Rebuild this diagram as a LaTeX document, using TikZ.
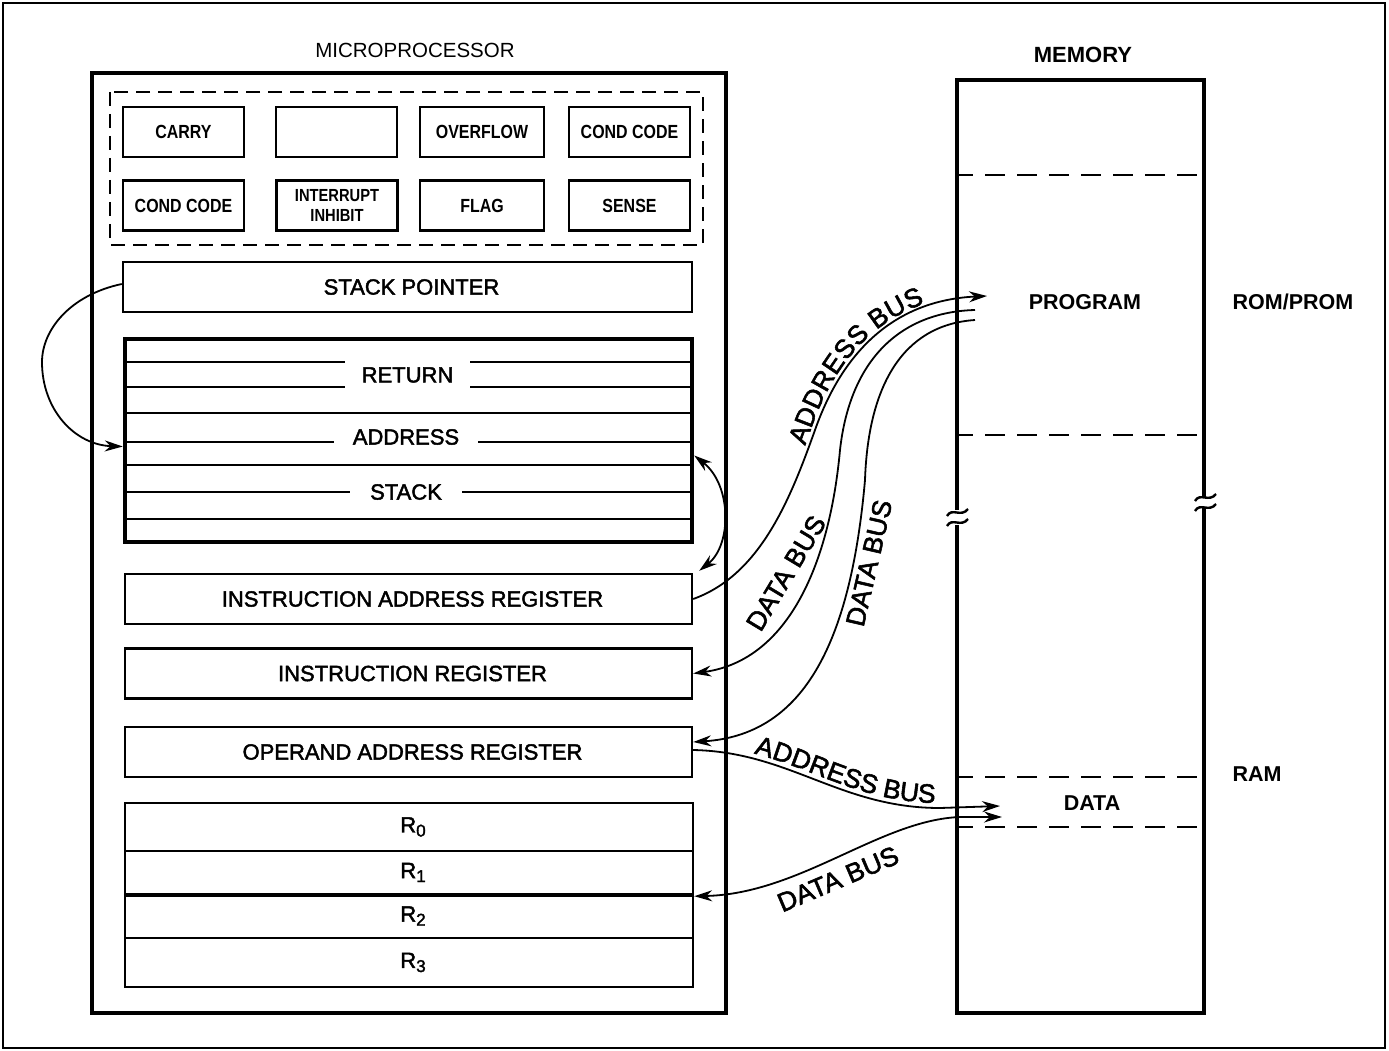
\documentclass[tikz,border=0pt]{standalone}
\usepackage{fontspec}
\setmainfont{Liberation Sans}
\newfontfamily\medfont[FakeBold=2]{Liberation Sans}
\newfontfamily\flagfont[FakeStretch=0.84]{Liberation Sans Bold}
\newcommand*\busfont{\medfont\fontsize{26.5}{28}\selectfont}
\usetikzlibrary{arrows.meta,decorations.text}

\begin{document}
\begin{tikzpicture}[x=1pt,y=-1pt,
  reg/.style={draw,line width=2.4pt,minimum width=567pt,minimum height=50pt,inner sep=0pt,
    font=\medfont\fontsize{22}{24}\selectfont,execute at begin node={\hspace*{8pt}}},
  regrow/.style={reg,minimum width=568pt},
  flagbox/.style={draw,line width=2.4pt,minimum width=121pt,minimum height=50pt,inner sep=0pt,
    align=center,font=\flagfont\fontsize{19}{20}\selectfont},
  lbl/.style={font=\medfont\fontsize{22}{24}\selectfont},
  memlbl/.style={font=\bfseries\fontsize{21.5}{24}\selectfont},
  buslbl/.style={font=\busfont,inner sep=0pt},
  bus/.style={line width=1.8pt},
  tip/.style={-{Stealth[length=18pt,width=11pt]}},
  tips/.style={{Stealth[length=18pt,width=11pt]}-{Stealth[length=18pt,width=11pt]}},
  memline/.style={line width=4.5pt},
  gap/.style={lbl,fill=white,inner xsep=17pt,inner ysep=3pt},
  brk/.style={line width=2.4pt}
]
\useasboundingbox (0,0) rectangle (1389,1051);
\draw[line width=1.4pt] (3,3) rectangle (1385,1048);

% ---------- microprocessor ----------
\node[font=\fontsize{20.5}{22}\selectfont] (mptitle) at (415,50) {MICROPROCESSOR};
\node[draw,line width=4.5pt,minimum width=634pt,minimum height=940pt,inner sep=0pt] (mp) at (409,543) {};

% status flags
\draw[line width=2.6pt,dash pattern=on 14pt off 8pt] (110,92) rectangle (703,245);
\node[flagbox] (carry) at (183.5,132) {CARRY};
\node[flagbox] (spare) at (336.5,132) {};
\node[flagbox,minimum width=124pt] (ovf) at (482,132) {OVERFLOW};
\node[flagbox] (ccA) at (629.5,132) {COND CODE};
\node[flagbox] (ccB) at (183.5,205.5) {COND CODE};
\node[flagbox,font=\flagfont\fontsize{17.5}{20}\selectfont] (intinh) at (337,205.5) {INTERRUPT\\INHIBIT};
\node[flagbox,minimum width=124pt] (flag) at (482,205.5) {FLAG};
\node[flagbox] (sense) at (629.5,205.5) {SENSE};

% stack pointer and stack
\node[reg,minimum width=569pt] (sp) at (407.5,287) {STACK POINTER};
\node[draw,line width=4.5pt,minimum width=567pt,minimum height=203pt,inner sep=0pt] (stk) at (408.5,440.5) {};
\foreach \yy in {362,387,413,442,465,492,519}
  \draw[line width=2pt] (125,\yy) -- (692,\yy);
\node[gap,minimum height=34pt] (ret) at (407.5,375) {RETURN};
\node[gap,inner xsep=19pt] (adr) at (406,437) {ADDRESS};
\node[gap,inner xsep=20pt] (stl) at (406,492) {STACK};

% registers
\node[reg] (iar) at (408.5,599) {INSTRUCTION ADDRESS REGISTER};
\node[reg] (ir) at (408.5,673.5) {INSTRUCTION REGISTER};
\node[reg] (oar) at (408.5,752) {OPERAND ADDRESS REGISTER};
\node[regrow,minimum height=48pt] (r0) at (409,827) {R\raisebox{-4pt}{\fontsize{17}{17}\selectfont 0}};
\node[regrow,minimum height=43pt] (r1) at (409,872.5) {R\raisebox{-4pt}{\fontsize{17}{17}\selectfont 1}};
\node[regrow,minimum height=44pt] (r2) at (409,916) {R\raisebox{-4pt}{\fontsize{17}{17}\selectfont 2}};
\node[regrow,minimum height=49pt] (r3) at (409,962.5) {R\raisebox{-4pt}{\fontsize{17}{17}\selectfont 3}};
\draw[line width=3.4pt] (r1.south west) -- (r1.south east);

% stack pointer -> stack
\draw[bus,tip] ([yshift=3pt]sp.west) .. controls (70,295) and (42,330) .. (42,362)
  .. controls (42,410) and (75,445) .. ([yshift=-6pt]stk.west);
% stack <-> instruction address register
\draw[bus,tips] ([yshift=-15pt]stk.east) .. controls (732,485) and (732,545) .. ([xshift=6pt,yshift=2pt]iar.north east);

% ---------- memory ----------
\node[memlbl,font=\bfseries\fontsize{22}{24}\selectfont] (memtitle) at (1083,55) {MEMORY};
\node[minimum width=247pt,minimum height=933pt,inner sep=0pt] (mem) at (1080.5,546.5) {};
\draw[memline] (957,510) -- (957,80) -- (1204,80) -- (1204,497);
\draw[memline] (957,525) -- (957,1013) -- (1204,1013) -- (1204,507);
\draw[brk] (947,516) .. controls (952,507) and (961,518) .. (968,509);
\draw[brk] (947,526) .. controls (952,517) and (961,528) .. (968,519);
\draw[brk] (1195,501) .. controls (1200,492) and (1209,503) .. (1216,494);
\draw[brk] (1195,511) .. controls (1200,502) and (1209,513) .. (1216,504);
\foreach \yy in {175,435,777,827}
  \draw[line width=2.2pt,dash pattern=on 20pt off 12pt,dash phase=6pt] (959,\yy) -- (1202,\yy);
\node[memlbl] (prog) at (1085,302) {PROGRAM};
\node[memlbl] (rom) at (1293,302) {ROM/PROM};
\node[memlbl] (ram) at (1257,774) {RAM};
\node[memlbl] (data) at (1092,803) {DATA};

% bus end points at the memory
\coordinate (abusA) at (987,296);
\coordinate (dbusA) at (975,310);
\coordinate (dbusB) at (975,320);
\coordinate (abusB) at (1000,806);
\coordinate (dbusC) at (1002,817);

% ---------- buses ----------
\draw[bus,tip,postaction={decorate,decoration={text along path,raise=4pt,
      text align={right,right indent=62pt},text={|\busfont|ADDRESS BUS}}}]
  (iar.east) .. controls (760,575) and (790,500) .. (815,430)
  .. controls (845,345) and (900,300) .. (abusA);
\draw[bus,tip] (dbusA) .. controls (900,312) and (850,360) .. (840,450)
  .. controls (830,560) and (790,660) .. (ir.east);
\draw[bus,tip] (dbusB) .. controls (900,325) and (868,390) .. (865,480)
  .. controls (850,650) and (800,735) .. ([yshift=10pt]oar.east);
\draw[bus,tip,postaction={decorate,decoration={text along path,raise=5pt,
      text align={left,left indent=60pt},text={|\busfont|ADDRESS BUS}}}]
  ([yshift=2pt]oar.east) .. controls (790,752) and (840,808) .. (940,808) -- (abusB);
\draw[bus,tips] ([yshift=-1pt]r1.south east) .. controls (800,894) and (880,820) .. (960,817) -- (dbusC);

\node[buslbl,rotate=59] (dlblA) at (786,573) {DATA BUS};
\node[buslbl,rotate=77] (dlblB) at (869,563) {DATA BUS};
\node[buslbl,rotate=23] (dlblC) at (838,879) {DATA BUS};
\end{tikzpicture}
\end{document}
